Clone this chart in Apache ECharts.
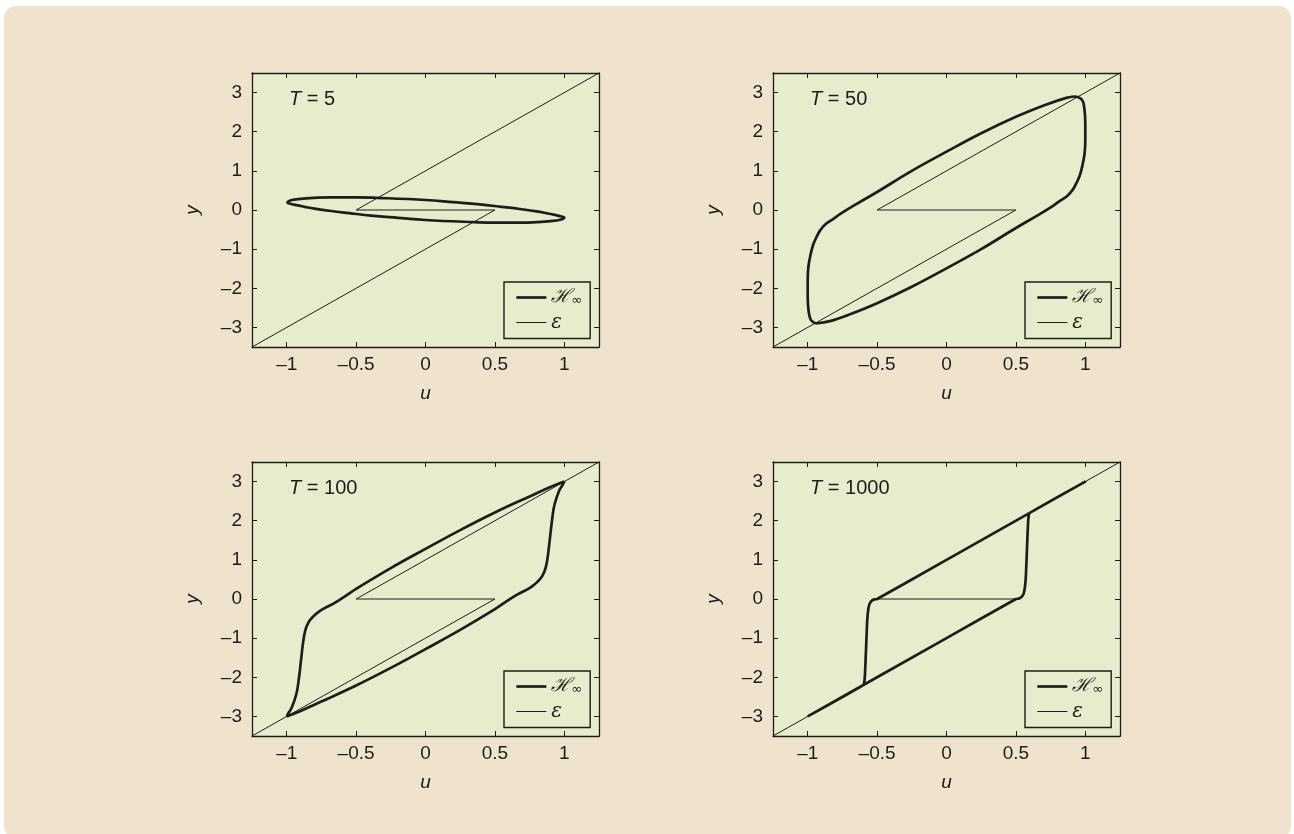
<!DOCTYPE html>
<html>
<head>
<meta charset="utf-8">
<script src="https://cdn.jsdelivr.net/npm/echarts@6/dist/echarts.min.js"></script>
<style>
  html, body { margin: 0; padding: 0; background: #ffffff; }
  #frame { position: absolute; left: 4px; top: 6px; width: 1287px; height: 832px; background: #efe3cd; border-radius: 12px; }
  #chart { position: absolute; left: 0; top: 0; width: 1294px; height: 834px; }
</style>
</head>
<body>
<div id="frame"></div>
<div id="chart"></div>
<script>
// Period of the input signal for each panel
const periods = [5, 50, 100, 1000];

// Tick positions on the u and y axes
const uTicks = [-1, -0.5, 0, 0.5, 1];
const yTicks = [-3, -2, -1, 0, 1, 2, 3];

// Rate-independent (backlash) characteristic, shared by all panels
const epsCurve = [[-1.25, -3.5], [0.5, 0], [-0.5, 0], [1.25, 3.5]];

// H-infinity loops (u, y) for each period
const hLoopT5 = [
  [-1.0, 0.19], [-0.97, 0.25], [-0.9, 0.285], [-0.8, 0.31], [-0.69, 0.325], [-0.5, 0.325],
  [-0.35, 0.31], [0, 0.255], [0.2, 0.2], [0.39, 0.145], [0.55, 0.08], [0.68, 0.025],
  [0.8, -0.035], [0.87, -0.08], [0.94, -0.13], [0.98, -0.165], [1.0, -0.19],
  [0.97, -0.25], [0.9, -0.285], [0.8, -0.31], [0.69, -0.325], [0.5, -0.325],
  [0.35, -0.31], [0, -0.255], [-0.2, -0.2], [-0.39, -0.145], [-0.55, -0.08], [-0.68, -0.025],
  [-0.8, 0.035], [-0.87, 0.08], [-0.94, 0.13], [-0.98, 0.165], [-1.0, 0.19]
];

const hLoopT50 = [
  [-0.94, -2.9], [-0.975, -2.82], [-0.993, -2.6], [-1.0, -2.2], [-1.0, -1.8], [-0.995, -1.45],
  [-0.98, -1.15], [-0.96, -0.88], [-0.935, -0.68], [-0.91, -0.52], [-0.87, -0.36], [-0.82, -0.24],
  [-0.765, -0.1], [-0.65, 0.15], [-0.5, 0.46], [-0.25, 1.0], [0, 1.49], [0.25, 1.96],
  [0.5, 2.38], [0.7, 2.67], [0.84, 2.84], [0.92, 2.9],
  [0.975, 2.82], [0.993, 2.6], [1.0, 2.2], [1.0, 1.8], [0.995, 1.45],
  [0.98, 1.15], [0.96, 0.88], [0.935, 0.68], [0.91, 0.52], [0.87, 0.36], [0.82, 0.24],
  [0.765, 0.1], [0.65, -0.15], [0.5, -0.46], [0.25, -1.0], [0, -1.49], [-0.25, -1.96],
  [-0.5, -2.38], [-0.7, -2.67], [-0.84, -2.84], [-0.94, -2.9]
];

const hLoopT100 = [
  [-1.0, -3.0], [-0.985, -2.9], [-0.962, -2.76], [-0.93, -2.42], [-0.914, -2.08], [-0.897, -1.57],
  [-0.883, -1.14], [-0.866, -0.8], [-0.842, -0.59], [-0.81, -0.45], [-0.77, -0.33], [-0.73, -0.24],
  [-0.66, -0.11], [-0.58, 0.07], [-0.5, 0.26], [-0.25, 0.79], [0, 1.28], [0.25, 1.76],
  [0.5, 2.21], [0.75, 2.62], [0.9, 2.86], [1.0, 3.0],
  [0.985, 2.9], [0.962, 2.76], [0.93, 2.42], [0.914, 2.08], [0.897, 1.57],
  [0.883, 1.14], [0.866, 0.8], [0.842, 0.59], [0.81, 0.45], [0.77, 0.33], [0.73, 0.24],
  [0.66, 0.11], [0.58, -0.07], [0.5, -0.26], [0.25, -0.79], [0, -1.28], [-0.25, -1.76],
  [-0.5, -2.21], [-0.75, -2.62], [-0.9, -2.86], [-1.0, -3.0]
];

const hLoopT1000 = [
  [-1.0, -3.0], [-0.6, -2.2], [-0.592, -2.12], [-0.587, -1.9], [-0.58, -1.3], [-0.572, -0.6],
  [-0.565, -0.3], [-0.555, -0.13], [-0.54, -0.05], [-0.52, -0.01], [-0.5, 0], [0, 1],
  [0.6, 2.2], [1.0, 3.0],
  [0.6, 2.2], [0.592, 2.12], [0.587, 1.9], [0.58, 1.3], [0.572, 0.6],
  [0.565, 0.3], [0.555, 0.13], [0.54, 0.05], [0.52, 0.01], [0.5, 0], [0, -1],
  [-1.0, -3.0]
];

const hLoops = [hLoopT5, hLoopT50, hLoopT100, hLoopT1000];

const ink = '#1f1c1c';
const plotBg = '#e6edcd';
const font = "'Liberation Sans', Arial, Helvetica, sans-serif";
const thick = 2.7, thin = 1;

// Plot box of each panel in pixels
const boxes = [
  { left: 252, top: 73 }, { left: 773, top: 73 },
  { left: 252, top: 462 }, { left: 773, top: 462 }
];
const boxW = 347, boxH = 274;

const dash = v => String(v).replace('-', '\u2013');

const grids = [], xAxes = [], yAxes = [], series = [], legends = [], titles = [];

boxes.forEach((b, i) => {
  grids.push({
    left: b.left, top: b.top, width: boxW, height: boxH,
    show: true, backgroundColor: plotBg, borderWidth: 0
  });

  const lineCfg = { show: true, onZero: false, lineStyle: { color: ink, width: 1.3 } };

  ['bottom', 'top'].forEach(pos => {
    xAxes.push({
      type: 'value', gridIndex: i, position: pos, min: -1.25, max: 1.25,
      axisLine: lineCfg,
      axisTick: { show: true, inside: true, length: 5, customValues: uTicks, lineStyle: { color: ink, width: 1 } },
      axisLabel: pos === 'bottom'
        ? { show: true, customValues: uTicks, formatter: dash, color: ink, fontSize: 19, fontFamily: font, margin: 8 }
        : { show: false },
      splitLine: { show: false },
      name: pos === 'bottom' ? 'u' : '',
      nameLocation: 'middle', nameGap: 37,
      nameTextStyle: { fontStyle: 'italic', fontSize: 19, color: ink, fontFamily: font }
    });
  });

  ['left', 'right'].forEach(pos => {
    yAxes.push({
      type: 'value', gridIndex: i, position: pos, min: -3.5, max: 3.5,
      axisLine: lineCfg,
      axisTick: { show: true, inside: true, length: 5, customValues: yTicks, lineStyle: { color: ink, width: 1 } },
      axisLabel: pos === 'left'
        ? { show: true, customValues: yTicks, formatter: dash, color: ink, fontSize: 19, fontFamily: font, margin: 10 }
        : { show: false },
      splitLine: { show: false },
      name: pos === 'left' ? 'y' : '',
      nameLocation: 'middle', nameGap: 50,
      nameTextStyle: { fontStyle: 'italic', fontSize: 19, color: ink, fontFamily: font }
    });
  });

  series.push({
    name: 'eps', type: 'line', xAxisIndex: 2 * i, yAxisIndex: 2 * i,
    data: epsCurve, symbol: 'none', lineStyle: { color: ink, width: thin }, z: 3
  });
  series.push({
    name: 'Hinf', type: 'line', xAxisIndex: 2 * i, yAxisIndex: 2 * i,
    data: hLoops[i], symbol: 'none', smooth: i === 3 ? 0.2 : 0.4,
    lineStyle: { color: ink, width: thick }, z: 4
  });

  legends.push({
    orient: 'vertical', left: b.left + 252, top: b.top + 209,
    data: [
      { name: 'Hinf', lineStyle: { width: thick, color: ink } },
      { name: 'eps', lineStyle: { width: thin, color: ink } }
    ],
    selectedMode: false,
    itemWidth: 30, itemHeight: 14, itemGap: 5,
    padding: [6, 8, 6, 11],
    borderColor: ink, borderWidth: 1.4, backgroundColor: plotBg,
    itemStyle: { opacity: 0 },
    formatter: n => n === 'Hinf' ? '{h|\u210B}{s|\u221E}' : '{e|\u03B5}',
    textStyle: {
      color: ink,
      rich: {
        h: { fontFamily: "'DejaVu Serif', serif", fontStyle: 'italic', fontSize: 19, lineHeight: 20, color: ink },
        s: { fontFamily: "'DejaVu Sans', sans-serif", fontSize: 13, lineHeight: 20, verticalAlign: 'bottom', color: ink },
        e: { fontFamily: "'DejaVu Serif', serif", fontStyle: 'italic', fontSize: 20, lineHeight: 20, color: ink }
      }
    }
  });

  titles.push({
    text: '{i|T} = ' + periods[i],
    left: b.left + 37, top: b.top + 16, padding: 0,
    textStyle: {
      fontSize: 20, fontWeight: 'normal', color: ink, fontFamily: font,
      rich: { i: { fontStyle: 'italic', fontSize: 20, color: ink, fontFamily: font } }
    }
  });
});

const chart = echarts.init(document.getElementById('chart'), null, { renderer: 'canvas' });
chart.setOption({
  backgroundColor: 'transparent',
  animation: false,
  title: titles,
  legend: legends,
  grid: grids,
  xAxis: xAxes,
  yAxis: yAxes,
  series: series
});
</script>
</body>
</html>
